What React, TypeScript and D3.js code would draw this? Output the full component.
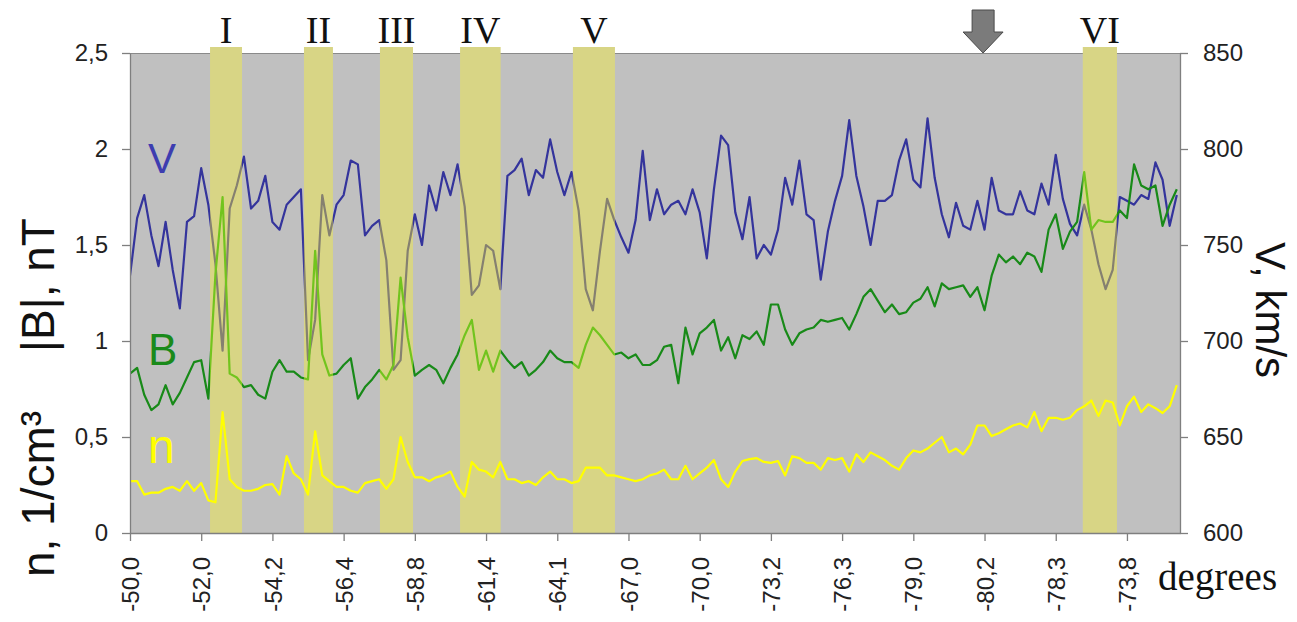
import React, { useEffect, useRef } from "react"
import * as d3 from "d3"

// V, km/s (right axis)
const speed = [
    734, 764, 776, 755, 739, 762, 737, 717, 762, 765,
    790, 771, 740, 695, 769, 781, 796, 769, 773, 786,
    762, 758, 771, 775, 779, 690, 711, 776, 755, 771,
    776, 794, 792, 755, 760, 763, 742, 685, 690, 747,
    766, 750, 781, 768, 788, 776, 792, 770, 724, 729,
    750, 747, 727, 786, 789, 795, 776, 789, 785, 805,
    788, 776, 788, 768, 727, 716, 747, 774, 763, 754,
    746, 763, 799, 763, 779, 766, 771, 773, 766, 779,
    767, 743, 779, 807, 802, 767, 753, 775, 743, 750,
    745, 758, 785, 771, 794, 766, 763, 732, 757, 773,
    786, 815, 786, 770, 750, 773, 773, 776, 794, 805,
    784, 780, 816, 785, 766, 754, 772, 760, 758, 773,
    758, 785, 768, 766, 766, 778, 768, 766, 782, 771,
    797, 774, 761, 755, 771, 758, 740, 727, 737, 775,
    773, 771, 776, 774, 793, 784, 760, 776
]

// |B|, nT (left axis)
const field = [
    0.83, 0.86, 0.72, 0.64, 0.67, 0.77, 0.67, 0.73, 0.81, 0.89,
    0.90, 0.70, 1.35, 1.75, 0.83, 0.81, 0.76, 0.77, 0.72, 0.70,
    0.84, 0.90, 0.84, 0.84, 0.81, 0.80, 1.47, 0.93, 0.82, 0.83,
    0.875, 0.91, 0.70, 0.76, 0.80, 0.85, 0.80, 0.875, 1.33, 1.02,
    0.82, 0.85, 0.875, 0.85, 0.78, 0.86, 0.93, 1.03, 1.11, 0.85,
    0.95, 0.84, 0.95, 0.90, 0.86, 0.89, 0.82, 0.85, 0.89, 0.95,
    0.91, 0.89, 0.89, 0.86, 0.98, 1.07, 1.03, 0.98, 0.93, 0.94,
    0.91, 0.93, 0.875, 0.875, 0.90, 0.97, 0.98, 0.78, 1.07, 0.93,
    1.04, 1.07, 1.11, 0.95, 1.02, 0.91, 1.03, 1.01, 1.05, 0.98,
    1.19, 1.19, 1.06, 0.98, 1.04, 1.06, 1.07, 1.11, 1.10, 1.11,
    1.12, 1.06, 1.14, 1.23, 1.27, 1.21, 1.15, 1.19, 1.14, 1.15,
    1.20, 1.22, 1.28, 1.18, 1.30, 1.27, 1.28, 1.29, 1.23, 1.28,
    1.16, 1.34, 1.45, 1.41, 1.44, 1.40, 1.46, 1.44, 1.36, 1.58,
    1.66, 1.48, 1.57, 1.62, 1.88, 1.58, 1.63, 1.62, 1.62, 1.68,
    1.64, 1.92, 1.81, 1.79, 1.81, 1.60, 1.71, 1.79
]

// n, 1/cm3 (left axis)
const density = [
    0.27, 0.27, 0.20, 0.21, 0.21, 0.23, 0.24, 0.22, 0.27, 0.22,
    0.26, 0.17, 0.16, 0.63, 0.28, 0.24, 0.22, 0.22, 0.23, 0.25,
    0.255, 0.20, 0.40, 0.31, 0.28, 0.20, 0.53, 0.30, 0.27, 0.24,
    0.24, 0.22, 0.21, 0.26, 0.27, 0.28, 0.23, 0.28, 0.50, 0.37,
    0.29, 0.29, 0.27, 0.29, 0.30, 0.32, 0.24, 0.19, 0.37, 0.33,
    0.32, 0.29, 0.37, 0.28, 0.28, 0.26, 0.27, 0.25, 0.29, 0.32,
    0.28, 0.28, 0.26, 0.27, 0.34, 0.34, 0.34, 0.30, 0.30, 0.29,
    0.28, 0.27, 0.28, 0.30, 0.31, 0.33, 0.28, 0.28, 0.35, 0.28,
    0.31, 0.34, 0.38, 0.28, 0.24, 0.32, 0.375, 0.385, 0.39, 0.37,
    0.365, 0.375, 0.30, 0.40, 0.39, 0.365, 0.365, 0.33, 0.39, 0.38,
    0.39, 0.32, 0.41, 0.37, 0.42, 0.40, 0.38, 0.35, 0.33, 0.39,
    0.43, 0.42, 0.44, 0.47, 0.50, 0.42, 0.44, 0.41, 0.46, 0.56,
    0.56, 0.505, 0.52, 0.54, 0.56, 0.57, 0.55, 0.63, 0.53, 0.60,
    0.60, 0.59, 0.60, 0.64, 0.66, 0.69, 0.61, 0.69, 0.68, 0.56,
    0.66, 0.71, 0.63, 0.67, 0.65, 0.625, 0.66, 0.77
]

// one tick label every 10 samples
const xLabels = ["-50,0", "-52,0", "-54,2", "-56,4", "-58,8", "-61,4", "-64,1", "-67,0",
    "-70,0", "-73,2", "-76,3", "-79,0", "-80,2", "-78,3", "-73,8"]
const tickStep = 10
const xMax = 147.45

// highlighted intervals, in sample units
const bandNames = ["I", "II", "III", "IV", "V", "VI"]
const bandStart = [11.24, 24.43, 35.1, 46.35, 62.2, 133.8]
const bandEnd = [15.73, 28.5, 39.74, 52.05, 68.1, 138.6]
const arrowAt = 119.8

const leftTicks = [0, 0.5, 1, 1.5, 2, 2.5]
const rightTicks = [600, 650, 700, 750, 800, 850]

const sans = "Arial, 'Liberation Sans', sans-serif"
const serif = "'Times New Roman', 'Liberation Serif', serif"

export default function App() {
    const ref = useRef<SVGSVGElement>(null)

    useEffect(() => {
        const svg = d3.select(ref.current)
        svg.selectAll("*").remove()

        const left = 130, right = 1180, top = 53, bottom = 533
        const x = d3.scaleLinear().domain([0, xMax]).range([left, right])
        const yL = d3.scaleLinear().domain([0, 2.5]).range([bottom, top])
        const yV = d3.scaleLinear().domain([600, 850]).range([bottom, top])

        svg.append("rect").attr("width", 1297).attr("height", 622).attr("fill", "white")

        svg.append("rect")
            .attr("x", left).attr("y", top)
            .attr("width", right - left).attr("height", bottom - top)
            .attr("fill", "#c0c0c0")
        svg.append("line")
            .attr("x1", left).attr("x2", right).attr("y1", top + 0.5).attr("y2", top + 0.5)
            .attr("stroke", "#8a8a8a").attr("stroke-width", 1)

        const bands = bandStart.map((s, i) => ({ s, e: bandEnd[i], name: bandNames[i] }))

        svg.selectAll("rect.band")
            .data(bands)
            .enter()
            .append("rect")
            .attr("class", "band")
            .attr("x", d => x(d.s))
            .attr("width", d => x(d.e) - x(d.s))
            .attr("y", top - 6)
            .attr("height", bottom - top + 6)
            .attr("fill", "#d8d585")

        // clip paths: inside bands / outside bands
        const defs = svg.append("defs")
        defs.append("clipPath").attr("id", "inBands")
            .selectAll("rect").data(bands).enter().append("rect")
            .attr("x", d => x(d.s)).attr("width", d => x(d.e) - x(d.s))
            .attr("y", 0).attr("height", 622)
        const gaps = []
        let prev = 0
        bands.forEach(b => { gaps.push([prev, b.s]); prev = b.e })
        gaps.push([prev, xMax + 2])
        defs.append("clipPath").attr("id", "outBands")
            .selectAll("rect").data(gaps).enter().append("rect")
            .attr("x", d => x(d[0])).attr("width", d => x(d[1]) - x(d[0]))
            .attr("y", 0).attr("height", 622)

        const lineV = d3.line<number>().x((d, i) => x(i)).y(d => yV(d))
        const lineL = d3.line<number>().x((d, i) => x(i)).y(d => yL(d))

        const drawLine = (data, gen, color, clip) => {
            const p = svg.append("path")
                .datum(data)
                .attr("d", gen)
                .attr("fill", "none")
                .attr("stroke", color)
                .attr("stroke-width", 2.2)
                .attr("stroke-linejoin", "round")
            if (clip) p.attr("clip-path", "url(#" + clip + ")")
        }

        drawLine(speed, lineV, "#34349c", "outBands")
        drawLine(speed, lineV, "#858070", "inBands")
        drawLine(field, lineL, "#188a18", "outBands")
        drawLine(field, lineL, "#72c41e", "inBands")
        drawLine(density, lineL, "#ffff00", null)

        // axes
        const styleAxis = g => {
            g.select("path.domain").attr("stroke", "#7f7f7f").attr("stroke-width", 1.3)
            g.selectAll(".tick line").attr("stroke", "#7f7f7f").attr("stroke-width", 1.3)
            g.selectAll(".tick text")
                .attr("fill", "#222")
                .style("font-family", sans)
                .style("font-size", "24px")
        }

        svg.append("g")
            .attr("transform", "translate(" + left + ",0)")
            .call(d3.axisLeft(yL).tickValues(leftTicks).tickSize(8).tickSizeOuter(0).tickPadding(14)
                .tickFormat(d => String(d).replace(".", ",")))
            .call(styleAxis)

        svg.append("g")
            .attr("transform", "translate(" + right + ",0)")
            .call(d3.axisRight(yV).tickValues(rightTicks).tickSize(8).tickSizeOuter(0).tickPadding(15)
                .tickFormat(d => String(d)))
            .call(styleAxis)

        svg.append("g")
            .attr("transform", "translate(0," + bottom + ")")
            .call(d3.axisBottom(x).tickValues(xLabels.map((d, i) => i * tickStep)).tickSize(8).tickSizeOuter(0)
                .tickFormat((d, i) => xLabels[i]))
            .call(styleAxis)
            .selectAll(".tick text")
            .attr("transform", "rotate(-90)")
            .attr("text-anchor", "end")
            .attr("x", -24)
            .attr("y", 0)
            .attr("dy", "0.36em")

        // band names
        svg.selectAll("text.band")
            .data(bands)
            .enter()
            .append("text")
            .attr("class", "band")
            .attr("x", d => x((d.s + d.e) / 2))
            .attr("y", 43)
            .attr("text-anchor", "middle")
            .style("font-family", serif)
            .style("font-size", "38px")
            .attr("fill", "#111")
            .text(d => d.name)

        // arrow
        const ax = x(arrowAt)
        svg.append("path")
            .attr("d", "M" + (ax - 11) + ",10 H" + (ax + 11) + " V32 H" + (ax + 20) +
                " L" + ax + ",53 L" + (ax - 20) + ",32 H" + (ax - 11) + " Z")
            .attr("fill", "#7b7b7b")
            .attr("stroke", "#4a4a4a")
            .attr("stroke-width", 1)

        // axis titles
        svg.append("text")
            .attr("transform", "translate(54,285) rotate(-90)")
            .attr("text-anchor", "middle")
            .style("font-family", sans).style("font-size", "46px")
            .attr("fill", "#111")
            .text("|B|, nT")
        svg.append("text")
            .attr("transform", "translate(54,494) rotate(-90)")
            .attr("text-anchor", "middle")
            .style("font-family", sans).style("font-size", "46px")
            .attr("fill", "#111")
            .text("n, 1/cm³")
        svg.append("text")
            .attr("transform", "translate(1256,310) rotate(90)")
            .attr("text-anchor", "middle")
            .style("font-family", sans).style("font-size", "42px")
            .attr("fill", "#111")
            .text("V, km/s")

        svg.append("text")
            .attr("x", 1158).attr("y", 590)
            .style("font-family", serif).style("font-size", "39px")
            .attr("fill", "#111")
            .text("degrees")

        // series names
        const names = [
            { t: "V", c: "#3d3db0", y: 173, s: 42 },
            { t: "B", c: "#1a8a1a", y: 365, s: 44 },
            { t: "n", c: "#ffff00", y: 463, s: 48 }
        ]
        svg.selectAll("text.name")
            .data(names)
            .enter()
            .append("text")
            .attr("class", "name")
            .attr("x", 148)
            .attr("y", d => d.y)
            .style("font-family", sans)
            .style("font-size", d => d.s + "px")
            .attr("fill", d => d.c)
            .text(d => d.t)
    }, [])

    return <svg ref={ref} width={1297} height={622} style={{ position: "absolute", left: 0, top: 0 }} />
}
